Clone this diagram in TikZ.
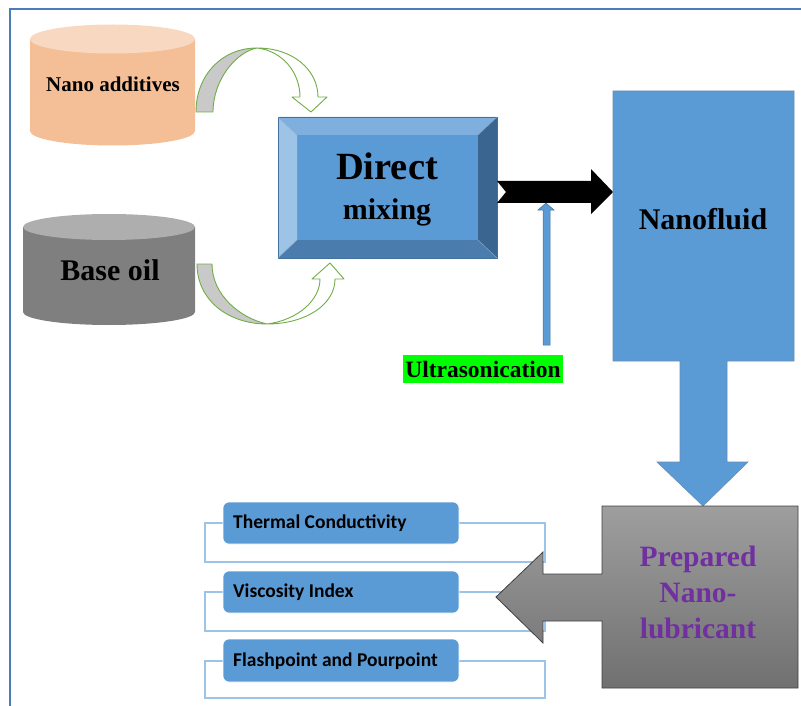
\documentclass[tikz,border=0pt]{standalone}
\usepackage{fontspec}
\setmainfont{Liberation Serif}
\newfontfamily\calfont{Carlito}
\definecolor{mainblue}{HTML}{5B9BD5}
\definecolor{edgeblue}{HTML}{41719C}
\definecolor{framecol}{HTML}{4A7EBB}
\definecolor{peachbody}{HTML}{F4BE97}
\definecolor{peachtop}{HTML}{F8D8C0}
\definecolor{graybody}{HTML}{7F7F7F}
\definecolor{graytop}{HTML}{AEAEAE}
\definecolor{arrowgreen}{HTML}{70AD47}
\definecolor{backgray}{HTML}{C9C9C9}
\definecolor{bevtop}{HTML}{7EAFDF}
\definecolor{bevleft}{HTML}{9DC3E6}
\definecolor{bevbot}{HTML}{4A7DAE}
\definecolor{bevright}{HTML}{3B6591}
\definecolor{lightline}{HTML}{9DC3E6}
\definecolor{purpletext}{HTML}{7030A0}
\definecolor{ultragreen}{HTML}{00FF00}
\begin{document}
\begin{tikzpicture}[x=1pt,y=-1pt,
  serifbold/.style={font=\bfseries, text=black, inner sep=0pt},
  curvedarrow/.style={draw=arrowgreen, line width=0.9pt, line join=round},
  itembox/.style={draw=white, line width=0.6pt, fill=mainblue, rounded corners=6pt},
  itemframe/.style={draw=lightline, line width=1.4pt},
  itemtext/.style={font=\calfont\bfseries\fontsize{19.5}{22}\selectfont, text=black, anchor=west, inner sep=0pt}
]
\useasboundingbox (0,0) rectangle (801,706);

% frame
\draw[framecol, line width=2pt] (10,706) -- (10,9) -- (801,9);

% Nano additives cylinder
\fill[peachbody] (30,39) -- (30,131) arc[start angle=180,end angle=360,x radius=82.5pt,y radius=14.5pt] -- (195,39) -- cycle;
\fill[peachtop] (112.5,39) ellipse [x radius=82.5pt, y radius=14.5pt];
\node[serifbold, font=\bfseries\fontsize{21}{24}\selectfont] (nano) at (113,84) {Nano additives};

% Base oil cylinder
\fill[graybody] (23,227) -- (23,312) arc[start angle=180,end angle=360,x radius=86pt,y radius=13pt] -- (195,227) -- cycle;
\fill[graytop] (109,227) ellipse [x radius=86pt, y radius=13pt];
\node[serifbold, font=\bfseries\fontsize{30}{34}\selectfont] (base) at (110,270) {Base oil};

% curved arrow from Nano additives
\draw[curvedarrow, fill=backgray] (196,112) .. controls (196,75) and (222,48) .. (257,48) .. controls (236,52) and (213,80) .. (213,112) -- cycle;
\draw[curvedarrow, fill=white] (257,48) .. controls (293,48) and (318,70) .. (318,97) -- (327,97) -- (311,112) -- (292,97) -- (300,97) .. controls (300,73) and (283,51) .. (257,48) -- cycle;

% curved arrow from Base oil
\draw[curvedarrow, fill=backgray] (197,264) .. controls (197,300) and (228,324) .. (267,324) .. controls (240,318) and (212,295) .. (212,264) -- cycle;
\draw[curvedarrow, fill=white] (267,324) .. controls (305,324) and (335,305) .. (335,279) -- (344,279) -- (330,263) -- (312,279) -- (320,279) .. controls (320,300) and (298,320) .. (267,324) -- cycle;

% Direct mixing bevel box
\fill[mainblue] (297,135) rectangle (478,240);
\fill[bevtop] (278,117) -- (497,117) -- (478,135) -- (297,135) -- cycle;
\fill[bevleft] (278,117) -- (297,135) -- (297,240) -- (278,258) -- cycle;
\fill[bevbot] (278,258) -- (297,240) -- (478,240) -- (497,258) -- cycle;
\fill[bevright] (497,117) -- (478,135) -- (478,240) -- (497,258) -- cycle;
\draw[edgeblue, line width=0.6pt] (278,117) rectangle (497,258);
\draw[edgeblue!60, line width=0.4pt] (278,117) -- (297,135) (497,117) -- (478,135) (278,258) -- (297,240) (497,258) -- (478,240);
\node[serifbold, font=\bfseries\fontsize{38.5}{42}\selectfont] (direct) at (387,166) {Direct};
\node[serifbold, font=\bfseries\fontsize{30}{34}\selectfont] (mixing) at (387,212) {mixing};

% black notched arrow
\fill[black] (497,181) -- (591,181) -- (591,169) -- (613,192) -- (591,214) -- (591,203) -- (497,203) -- (506,192) -- cycle;

% ultrasonication arrow
\draw[edgeblue, line width=0.5pt, fill=mainblue] (543,345) -- (543,210) -- (538,210) -- (546,203) -- (554,210) -- (550,210) -- (550,345) -- cycle;
\node[fill=ultragreen, minimum width=160pt, minimum height=28pt, inner sep=0pt, font=\bfseries\fontsize{23.5}{26}\selectfont] (ultra) at (483,369) {Ultrasonication};

% Nanofluid callout
\draw[fill=mainblue, draw=edgeblue!80, line width=0.6pt] (613,91) -- (794,91) -- (794,361) -- (727,361) -- (727,462) -- (748,462) -- (703,506) -- (657,462) -- (680,462) -- (680,361) -- (613,361) -- cycle;
\node[serifbold, font=\bfseries\fontsize{30}{34}\selectfont] (nanofluid) at (703,219) {Nanofluid};

% item frames
\draw[itemframe] (205,523) rectangle (545,562);
\draw[itemframe] (205,592) rectangle (545,631);
\draw[itemframe] (205,661) rectangle (545,698);

% item boxes
\draw[itembox] (223,502) rectangle (459,544);
\draw[itembox] (223,571) rectangle (459,613);
\draw[itembox] (223,639) rectangle (459,682);
\node[itemtext] (thermal) at (233,523) {Thermal Conductivity};
\node[itemtext] (visc) at (233,592) {Viscosity Index};
\node[itemtext] (flash) at (233,661) {Flashpoint and Pourpoint};

% Prepared Nano-lubricant callout
\shade[top color=black!38, bottom color=black!56] (602,506) -- (798,506) -- (798,688) -- (602,688) -- (602,621) -- (543,621) -- (543,643) -- (496,597) -- (543,552) -- (543,574) -- (602,574) -- cycle;
\draw[black!75, line width=0.8pt] (602,506) -- (798,506) -- (798,688) -- (602,688) -- (602,621) -- (543,621) -- (543,643) -- (496,597) -- (543,552) -- (543,574) -- (602,574) -- cycle;
\node[serifbold, text=purpletext, align=center, font=\bfseries\fontsize{29.5}{36}\selectfont] (prepared) at (698,592) {Prepared\\Nano-\\lubricant};

\end{tikzpicture}
\end{document}
